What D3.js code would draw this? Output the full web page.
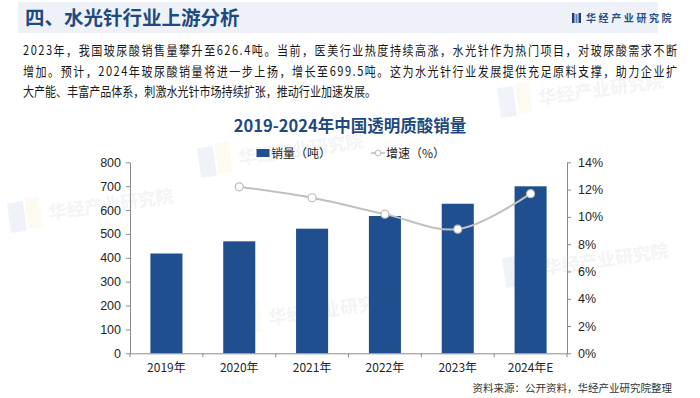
<!DOCTYPE html>
<html><head><meta charset="utf-8">
<script src="https://cdn.jsdelivr.net/npm/d3@7/dist/d3.min.js"></script>
<style>
html,body{margin:0;padding:0;background:#fff;}
svg{display:block;}
</style></head>
<body>
<svg id="c" width="700" height="398"></svg>
<script>
const categories = ["2019年","2020年","2021年","2022年","2023年","2024年E"];
const salesValues = [418, 469, 522, 575, 626.4, 699.5];
const growthYears = ["2020年","2021年","2022年","2023年","2024年E"];
const growthValues = [12.2, 11.4, 10.2, 9.1, 11.7];
const leftTicks = [0,100,200,300,400,500,600,700,800];
const rightTicks = [0,2,4,6,8,10,12,14];
const paragraphLines = [
  "2023年，我国玻尿酸销售量攀升至626.4吨。当前，医美行业热度持续高涨，水光针作为热门项目，对玻尿酸需求不断",
  "增加。预计，2024年玻尿酸销量将进一步上扬，增长至699.5吨。这为水光针行业发展提供充足原料支撑，助力企业扩",
  "大产能、丰富产品体系，刺激水光针市场持续扩张，推动行业加速发展。"
];

const svg = d3.select("#c");
const CJK = "'Noto Sans CJK SC','Noto Sans',sans-serif";
const NUM = "'Liberation Sans',Arial,sans-serif";
const dark = "#1f4a80";
const barColor = "#1f4f8f";

// faint watermarks
const wm = [[200,170],[10,225],[505,280],[230,330],[500,110]];
wm.forEach(([x,y])=>{
  const g = svg.append("g").attr("transform",`translate(${x},${y}) rotate(-8)`).attr("opacity",0.1);
  g.append("rect").attr("x",0).attr("y",-22).attr("width",16).attr("height",30).attr("fill","#6f8fc8");
  g.append("rect").attr("x",18).attr("y",-24).attr("width",14).attr("height",30).attr("fill","#f3d36b");
  g.append("text").attr("x",40).attr("y",0).attr("font-family",CJK).attr("font-size",18).attr("font-weight","bold").attr("fill","#8a97ab").text("华经产业研究院");
});

// header band
svg.append("rect").attr("x",18).attr("y",2).attr("width",640).attr("height",31).attr("fill","#eef2f8");
svg.append("text").attr("x",25).attr("y",24.5).attr("font-family",CJK).attr("font-size",19.5).attr("font-weight","bold").attr("fill",dark).text("四、水光针行业上游分析");
// logo
svg.append("rect").attr("x",572).attr("y",13).attr("width",2.5).attr("height",10).attr("fill","#1f3f78");
svg.append("rect").attr("x",575.5).attr("y",14).attr("width",2).attr("height",9).attr("fill","#5d7fbf");
svg.append("rect").attr("x",578.5).attr("y",13).attr("width",2.5).attr("height",10).attr("fill","#1f3f78");
svg.append("text").attr("x",586).attr("y",22).attr("font-family",CJK).attr("font-size",10).attr("font-weight","bold").attr("letter-spacing",2.6).attr("fill","#2a4f86").text("华经产业研究院");

// paragraph (condensed font look)
const sx = 0.85;
const pys = [54.5, 75.5, 96];
paragraphLines.forEach((t,i)=>{
  const tx = svg.append("text").attr("transform",`translate(23,${pys[i]}) scale(${sx},1)`)
    .attr("font-family",CJK).attr("font-size",13).attr("fill","#1a1a1a").text(t);
  if(i<2) tx.attr("textLength",654/sx).attr("lengthAdjust","spacing");
});

// chart title
svg.append("text").attr("x",350).attr("y",132).attr("text-anchor","middle").attr("font-family",CJK).attr("font-size",16.5).attr("font-weight","bold").attr("fill",dark).text("2019-2024年中国透明质酸销量");

// legend
svg.append("rect").attr("x",256.5).attr("y",149).attr("width",13).attr("height",8).attr("fill",barColor);
svg.append("text").attr("x",271).attr("y",157.5).attr("font-family",CJK).attr("font-size",12).attr("fill","#222").text("销量（吨）");
svg.append("line").attr("x1",371).attr("x2",385).attr("y1",153).attr("y2",153).attr("stroke","#bdbdbd").attr("stroke-width",1.5);
svg.append("circle").attr("cx",378).attr("cy",153).attr("r",2.8).attr("fill","#fff").attr("stroke","#bdbdbd").attr("stroke-width",1);
svg.append("text").attr("x",386).attr("y",157.5).attr("font-family",CJK).attr("font-size",12).attr("fill","#222").text("增速（%）");

// scales
const x0 = 130, x1 = 567, yTop = 162.3, yBot = 353.3;
const x = d3.scaleBand().domain(categories).range([x0,x1]).paddingInner(0.56).paddingOuter(0.28);
const xb = d3.scaleBand().domain(categories).range([x0,x1]);
const yL = d3.scaleLinear().domain([0,800]).range([yBot,yTop]);
const yR = d3.scaleLinear().domain([0,14]).range([yBot,yTop]);

// bars
svg.append("g").selectAll("rect").data(categories).join("rect")
  .attr("x",d=>x(d)).attr("width",x.bandwidth())
  .attr("y",(d,i)=>yL(salesValues[i])).attr("height",(d,i)=>yBot-yL(salesValues[i]))
  .attr("fill",barColor);

// axes
const axisColor = "#8c8c8c";
const gL = svg.append("g").attr("transform",`translate(${x0},0)`)
  .call(d3.axisLeft(yL).tickValues(leftTicks).tickSize(4).tickPadding(5).tickSizeOuter(0));
const gR = svg.append("g").attr("transform",`translate(${x1},0)`)
  .call(d3.axisRight(yR).tickValues(rightTicks).tickSize(4).tickPadding(7).tickSizeOuter(0).tickFormat(d=>d+"%"));
const gX = svg.append("g").attr("transform",`translate(0,${yBot})`)
  .call(d3.axisBottom(xb).tickSize(0).tickPadding(10).tickSizeOuter(0));
// band boundary ticks on x axis
svg.append("g").selectAll("line").data(categories.concat(["end"])).join("line")
  .attr("x1",(d,i)=>x0+i*xb.step()).attr("x2",(d,i)=>x0+i*xb.step())
  .attr("y1",yBot).attr("y2",yBot+4).attr("stroke",axisColor);
[gL,gR,gX].forEach(g=>{
  g.selectAll("path").attr("stroke",axisColor);
  g.selectAll("line").attr("stroke",axisColor);
  g.selectAll("text").attr("font-family",NUM).attr("font-size",12.5).attr("fill","#262626");
});
gX.selectAll("text").attr("font-family",CJK).attr("font-size",12);
gX.select("path").attr("d",`M${x0},0.5H${x1}`);

// growth line
const pts = growthYears.map((c,i)=>[xb(c)+xb.bandwidth()/2, yR(growthValues[i])]);
svg.append("path").attr("d",d3.line().curve(d3.curveCatmullRom.alpha(0.5))(pts))
  .attr("fill","none").attr("stroke","#c0c0c0").attr("stroke-width",2);
svg.append("g").selectAll("circle").data(pts).join("circle")
  .attr("cx",d=>d[0]).attr("cy",d=>d[1]).attr("r",4).attr("fill","#fff").attr("stroke","#bdbdbd").attr("stroke-width",1.2);

// source
svg.append("text").attr("x",672).attr("y",392).attr("text-anchor","end").attr("font-family",CJK).attr("font-size",10.5).attr("fill","#333").text("资料来源：公开资料，华经产业研究院整理");
</script>
</body></html>
